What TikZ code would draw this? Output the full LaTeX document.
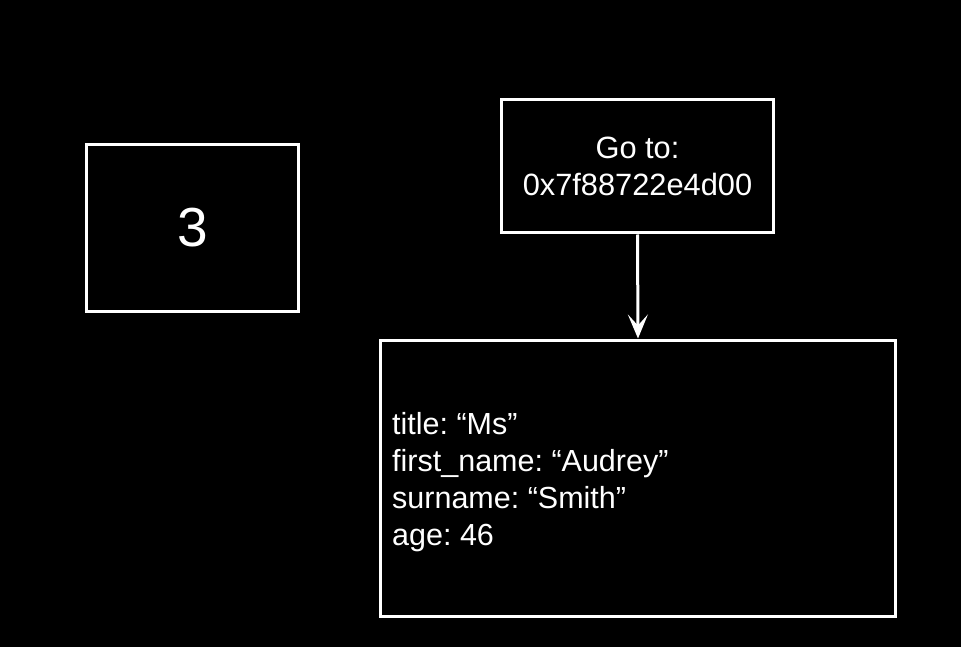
\documentclass[tikz,border=0pt]{standalone}
\usepackage{fontspec}
\setmainfont{Liberation Sans}
\usetikzlibrary{arrows.meta}
\begin{document}
\frenchspacing
\begin{tikzpicture}[x=1pt,y=-1pt,
  box/.style={draw=white, line width=3pt, fill=black, text=white, rectangle, inner sep=0pt},
  lbl/.style={text=white, inner sep=0pt},
  conn/.style={draw=white, line width=3pt, -{Stealth[length=24pt, width=20pt, inset=11pt]}}]
\fill[black] (0,0) rectangle (961,647);
\useasboundingbox (0,0) rectangle (961,647);
\node[box, minimum width=212pt, minimum height=167pt, font=\fontsize{55}{60}\selectfont] (num) at (192.5,228) {3};
\node[box, minimum width=272pt, minimum height=133pt, align=center, font=\fontsize{30.8}{37}\selectfont] (goto) at (637.5,166.5) {Go to:\\0x7f88722e4d00};
\node[box, minimum width=515pt, minimum height=276pt] (obj) at (638,478) {};
\node[lbl, anchor=west, align=left, font=\fontsize{30.5}{37}\selectfont] (fields) at (392,482) {title: “Ms”\\first\_name: “Audrey”\\surname: “Smith”\\age: 46};
\draw[conn] (goto.south) -- (obj.north);
\end{tikzpicture}
\end{document}
